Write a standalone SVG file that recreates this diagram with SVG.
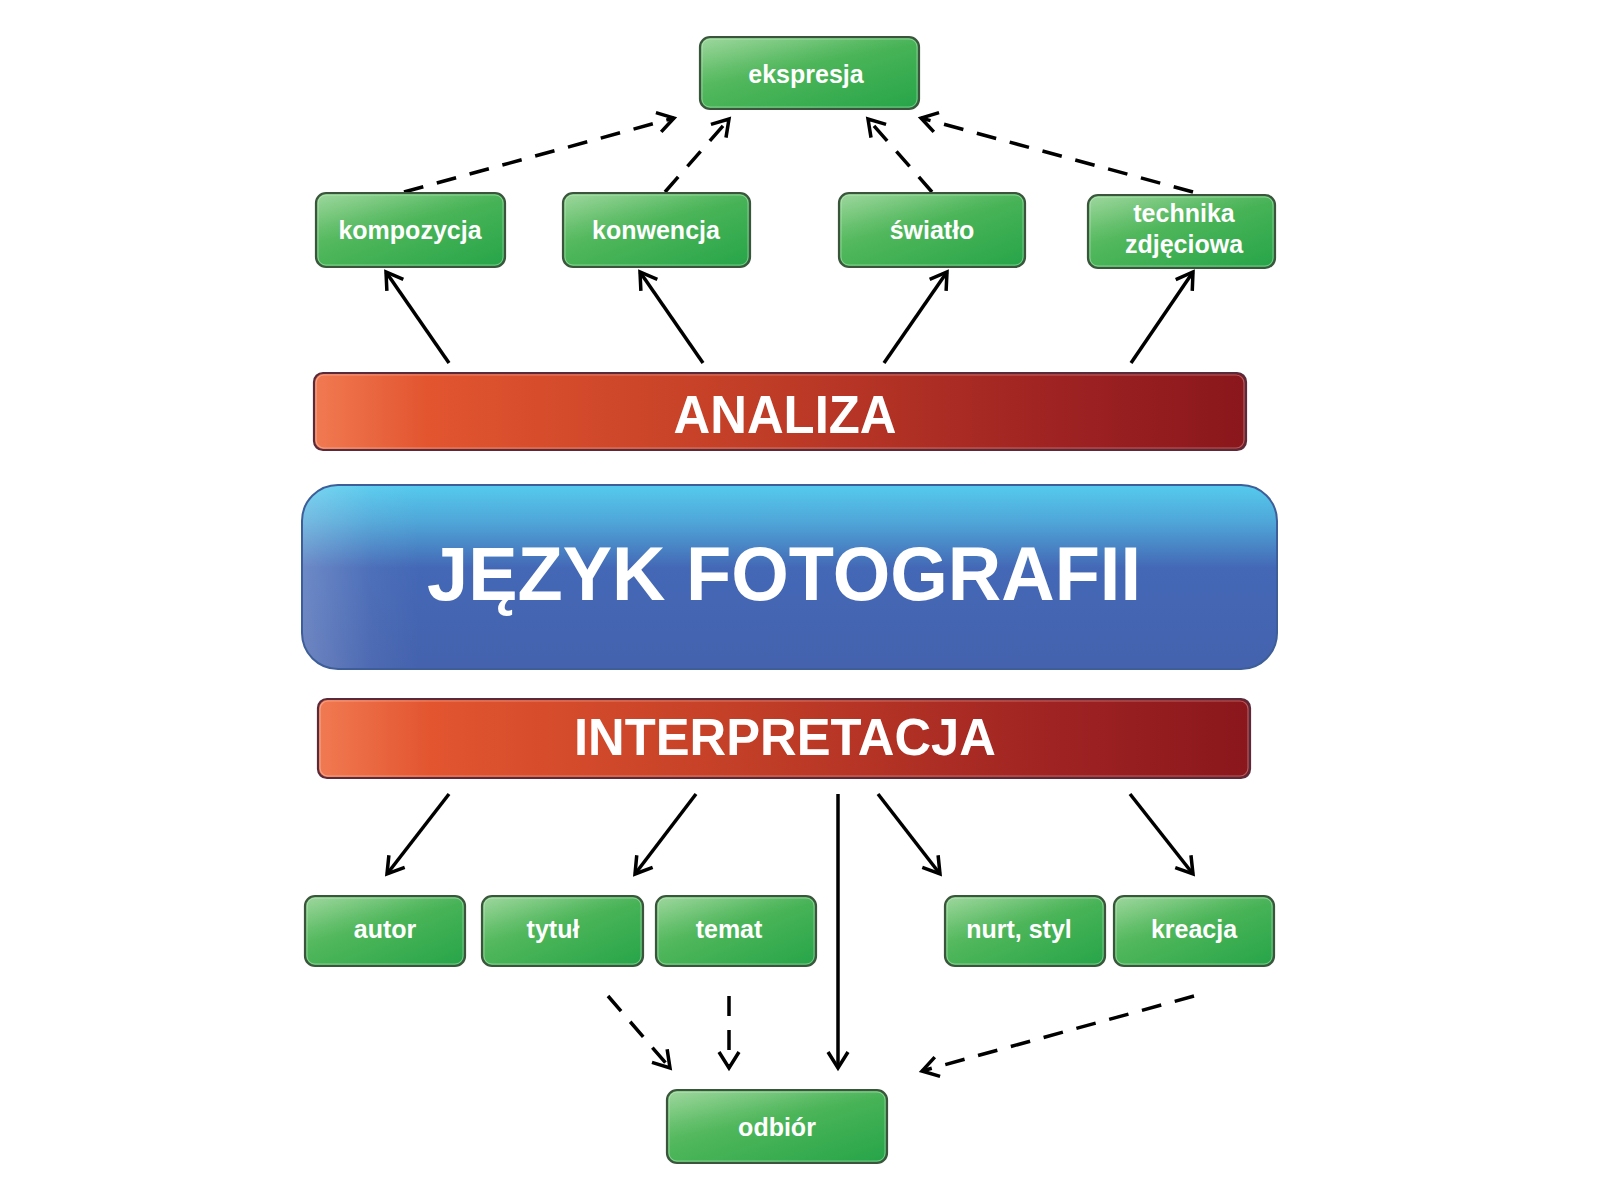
<svg xmlns="http://www.w3.org/2000/svg" width="1600" height="1200" viewBox="0 0 1600 1200">
<style>
.g{fill:url(#gGreen);stroke:#3a553c;stroke-width:2.2}
.gh{fill:url(#gGloss);stroke:#ffffff;stroke-opacity:0.35;stroke-width:1}
.t{font-family:"Liberation Sans",Arial,sans-serif;font-weight:bold;font-size:25px;fill:#fff;text-anchor:middle}
.r{fill:url(#gRed);stroke:#5a2a3a;stroke-width:2.2}
.rh{fill:none;stroke:#ffffff;stroke-opacity:0.3;stroke-width:1.2}
.big{font-family:"Liberation Sans",Arial,sans-serif;font-weight:bold;fill:#fff;text-anchor:middle}
.s{fill:none;stroke:#000;stroke-width:3.5;marker-end:url(#arr)}
.d{fill:none;stroke:#000;stroke-width:3.5;stroke-dasharray:20 14;marker-end:url(#arr)}
</style>
<defs>
<linearGradient id="gGreen" x1="0" y1="0" x2="1" y2="1">
<stop offset="0" stop-color="#76c776"/>
<stop offset="0.45" stop-color="#4cb559"/>
<stop offset="1" stop-color="#26a448"/>
</linearGradient>
<linearGradient id="gGloss" x1="0" y1="0" x2="0.6" y2="1">
<stop offset="0" stop-color="#fff" stop-opacity="0.28"/>
<stop offset="0.35" stop-color="#fff" stop-opacity="0.06"/>
<stop offset="0.5" stop-color="#fff" stop-opacity="0"/>
</linearGradient>
<linearGradient id="gRed" x1="0" y1="0" x2="1" y2="0">
<stop offset="0" stop-color="#f17a52"/>
<stop offset="0.12" stop-color="#e2552f"/>
<stop offset="0.45" stop-color="#c33f27"/>
<stop offset="0.8" stop-color="#9e2222"/>
<stop offset="1" stop-color="#8a171c"/>
</linearGradient>
<linearGradient id="gBlue" x1="0" y1="0" x2="0" y2="1">
<stop offset="0" stop-color="#55cbee"/>
<stop offset="0.2" stop-color="#4fa6d8"/>
<stop offset="0.45" stop-color="#4468b6"/>
<stop offset="1" stop-color="#4462ae"/>
</linearGradient>
<linearGradient id="gBlueL" x1="0" y1="0" x2="1" y2="0">
<stop offset="0" stop-color="#fff" stop-opacity="0.22"/>
<stop offset="0.07" stop-color="#fff" stop-opacity="0.05"/>
<stop offset="0.12" stop-color="#fff" stop-opacity="0"/>
</linearGradient>
<marker id="arr" markerUnits="userSpaceOnUse" viewBox="-20 -13 24 26" refX="0" refY="0" markerWidth="24" markerHeight="26" orient="auto">
<path d="M-16,-10 L0,0 L-16,10" fill="none" stroke="#000" stroke-width="3.5"/>
</marker>
</defs>

<g id="connectors">
<line class="s" x1="449" y1="363" x2="386" y2="272"/>
<line class="s" x1="703" y1="363" x2="640" y2="272"/>
<line class="s" x1="884" y1="363" x2="947" y2="272"/>
<line class="s" x1="1131" y1="363" x2="1193" y2="272"/>
<line class="d" x1="404" y1="192" x2="674" y2="118"/>
<line class="d" x1="665" y1="192" x2="729" y2="119"/>
<line class="d" x1="932" y1="192" x2="868" y2="119"/>
<line class="d" x1="1193" y1="192" x2="921" y2="118"/>
<line class="s" x1="449" y1="794" x2="387" y2="874"/>
<line class="s" x1="696" y1="794" x2="635" y2="874"/>
<line class="s" x1="838" y1="794" x2="838" y2="1068"/>
<line class="s" x1="878" y1="794" x2="940" y2="874"/>
<line class="s" x1="1130" y1="794" x2="1193" y2="874"/>
<line class="d" x1="608" y1="996" x2="670" y2="1068"/>
<line class="d" x1="729" y1="996" x2="729" y2="1068"/>
<line class="d" x1="1194" y1="996" x2="922" y2="1071"/>
</g>

<g id="ekspresja">
<rect class="g" x="700" y="37" width="219" height="72" rx="10"/>
<rect class="gh" x="702" y="39" width="215" height="68" rx="8"/>
<text class="t" x="806" y="83">ekspresja</text>
</g>
<g id="kompozycja">
<rect class="g" x="316" y="193" width="189" height="74" rx="10"/>
<rect class="gh" x="318" y="195" width="185" height="70" rx="8"/>
<text class="t" x="410" y="239">kompozycja</text>
</g>
<g id="konwencja">
<rect class="g" x="563" y="193" width="187" height="74" rx="10"/>
<rect class="gh" x="565" y="195" width="183" height="70" rx="8"/>
<text class="t" x="656" y="239">konwencja</text>
</g>
<g id="swiatlo">
<rect class="g" x="839" y="193" width="186" height="74" rx="10"/>
<rect class="gh" x="841" y="195" width="182" height="70" rx="8"/>
<text class="t" x="932" y="239">światło</text>
</g>
<g id="technika">
<rect class="g" x="1088" y="195" width="187" height="73" rx="10"/>
<rect class="gh" x="1090" y="197" width="183" height="69" rx="8"/>
<text class="t" x="1184" y="222">technika</text>
<text class="t" x="1184" y="253">zdjęciowa</text>
</g>

<g id="analiza">
<rect class="r" x="314" y="373" width="932" height="77" rx="9"/>
<rect class="rh" x="316" y="375" width="928" height="73" rx="8"/>
<text class="big" x="785" y="433" font-size="54" textLength="223" lengthAdjust="spacingAndGlyphs">ANALIZA</text>
</g>

<g id="jezyk">
<rect x="302" y="485" width="975" height="184" rx="36" fill="url(#gBlue)" stroke="#3d5e98" stroke-width="2"/>
<rect x="303" y="486" width="973" height="182" rx="35" fill="url(#gBlueL)"/>
<text class="big" x="784" y="600" font-size="76" textLength="714" lengthAdjust="spacingAndGlyphs">JĘZYK FOTOGRAFII</text>
</g>

<g id="interpretacja">
<rect class="r" x="318" y="699" width="932" height="79" rx="9"/>
<rect class="rh" x="320" y="701" width="928" height="75" rx="8"/>
<text class="big" x="785" y="755" font-size="52" textLength="422" lengthAdjust="spacingAndGlyphs">INTERPRETACJA</text>
</g>

<g id="autor">
<rect class="g" x="305" y="896" width="160" height="70" rx="10"/>
<rect class="gh" x="307" y="898" width="156" height="66" rx="8"/>
<text class="t" x="385" y="938">autor</text>
</g>
<g id="tytul">
<rect class="g" x="482" y="896" width="161" height="70" rx="10"/>
<rect class="gh" x="484" y="898" width="157" height="66" rx="8"/>
<text class="t" x="553" y="938">tytuł</text>
</g>
<g id="temat">
<rect class="g" x="656" y="896" width="160" height="70" rx="10"/>
<rect class="gh" x="658" y="898" width="156" height="66" rx="8"/>
<text class="t" x="729" y="938">temat</text>
</g>
<g id="nurt">
<rect class="g" x="945" y="896" width="160" height="70" rx="10"/>
<rect class="gh" x="947" y="898" width="156" height="66" rx="8"/>
<text class="t" x="1019" y="938">nurt, styl</text>
</g>
<g id="kreacja">
<rect class="g" x="1114" y="896" width="160" height="70" rx="10"/>
<rect class="gh" x="1116" y="898" width="156" height="66" rx="8"/>
<text class="t" x="1194" y="938">kreacja</text>
</g>
<g id="odbior">
<rect class="g" x="667" y="1090" width="220" height="73" rx="10"/>
<rect class="gh" x="669" y="1092" width="216" height="69" rx="8"/>
<text class="t" x="777" y="1136">odbiór</text>
</g>
</svg>
